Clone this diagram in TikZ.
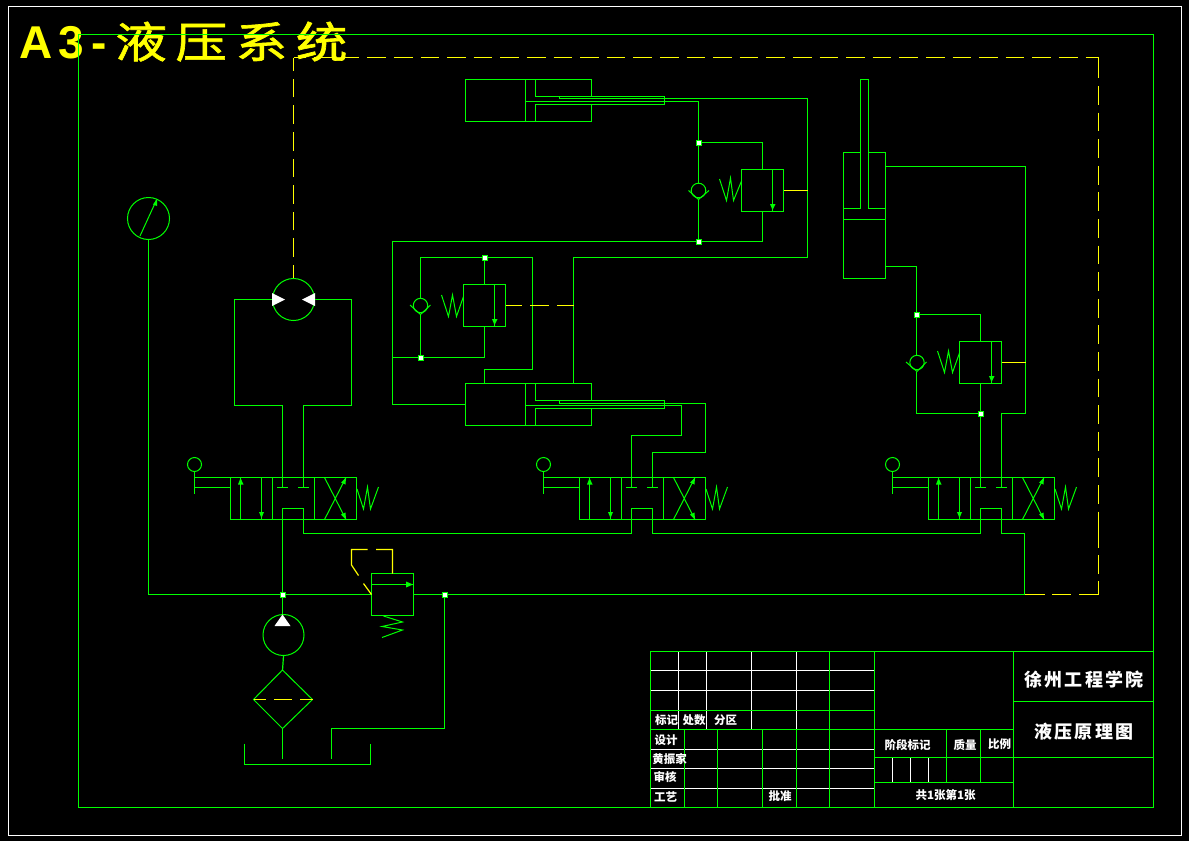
\documentclass[tikz,border=0pt]{standalone}
\usepackage{fontspec}
\setmainfont{Noto Sans CJK SC}
\newfontfamily\latfont{Liberation Sans}
\newfontfamily\cjk{Noto Sans CJK SC}
\newfontfamily\cjkwide[LetterSpace=12]{Noto Sans CJK SC}
\newfontfamily\cjktitle[LetterSpace=20,FakeStretch=1.2,FakeBold=1.5]{Noto Sans CJK SC}
\definecolor{gr}{RGB}{0,255,0}
\definecolor{ye}{RGB}{255,255,0}
\tikzset{
  pipe/.style={draw=gr,line width=1.2pt},
  thin/.style={draw=gr,line width=1pt},
  wht/.style={draw=white,line width=1.2pt},
  ctrl/.style={draw=ye,line width=1.2pt},
  ctrldash/.style={draw=ye,line width=1.2pt,dash pattern=on 18.7pt off 7.9pt},
  junction/.style={rectangle,draw=gr,fill=white,line width=1pt,minimum size=5pt,inner sep=0pt},
  lab/.style={text=white,font=\cjk\bfseries\fontsize{11.5}{12}\selectfont,inner sep=0pt},
  biglab/.style={text=white,font=\cjkwide\bfseries\fontsize{18}{20}\selectfont,inner sep=0pt},
  headfill/.style={fill=gr},
  dirvalve/.pic={
    \draw[pipe] (230.5,477.5) rectangle (356.5,519.5);
    \draw[pipe] (272.5,477.5) -- (272.5,519.5) (314.5,477.5) -- (314.5,519.5);
    \draw[thin] (194.5,464.5) circle (7);
    \draw[pipe] (194.5,471.5) -- (194.5,493.5) (194.5,477.5) -- (230.5,477.5) (194.5,487.5) -- (230.5,487.5);
    \draw[pipe] (240.5,477.5) -- (240.5,519.5) (261.5,477.5) -- (261.5,519.5);
    \fill[headfill] (240.5,478) -- (243.5,484.5) -- (238,484.5) -- cycle;
    \fill[headfill] (261.5,518) -- (264,512) -- (259,512) -- cycle;
    \draw[pipe] (277,487.5) -- (288,487.5) (298,487.5) -- (309,487.5);
    \draw[thin] (324.5,477.5) -- (346,519.5) (324.5,519.5) -- (346,477.5);
    \fill[headfill] (346,477.5) -- (345.5,484.5) -- (341,482.5) -- cycle;
    \fill[headfill] (346,519.5) -- (345.5,512.5) -- (341,514.5) -- cycle;
    \draw[thin] (357,489) -- (363.5,509) -- (367.5,487) -- (370.5,509) -- (378.5,487);
  }
}
\begin{document}
\begin{tikzpicture}[x=1pt,y=-1pt]
\useasboundingbox (0,0) rectangle (1189,841);
\fill[black] (0,0) rectangle (1189,841);
% title
\node[anchor=base west,inner sep=0pt,text=ye] (title) at (19,58)
  {{\latfont\bfseries\fontsize{46}{46}\selectfont A\kern6pt 3\kern8pt-\kern8pt}{\cjktitle\fontsize{43}{43}\selectfont 液压系统}};
% frames
\draw[wht] (8.5,6.5) rectangle (1181.5,835.5);
\draw[pipe] (78.5,34.5) rectangle (1153.5,807.5);

% ---- dashed control lines
\coordinate (cornerTL) at (293.5,57.5);
\coordinate (cornerTR) at (1098.5,57.5);
\draw[ctrldash,dash phase=6pt] (cornerTL) -- (cornerTR);
\draw[ctrl] (cornerTR) -- (1098.5,77.5);
\draw[ctrldash] (1098.5,86) -- (1098.5,531);
\draw[ctrl] (1098.5,512) -- (1098.5,547.5) (1098.5,555) -- (1098.5,573.5) (1098.5,581) -- (1098.5,594.5);
\draw[ctrl] (1024.5,594.5) -- (1045,594.5) (1052,594.5) -- (1071,594.5) (1079,594.5) -- (1098.5,594.5);
\draw[ctrl] (293.5,279) -- (293.5,265);
\draw[ctrldash] (293.5,257) -- (cornerTL);

% ---- gauge
\node[circle,draw=gr,line width=1pt,minimum size=42pt,inner sep=0pt] (gauge) at (148.5,218.5) {};
\draw[thin] (140,236) -- (156.5,200);
\fill[headfill] (157,199) -- (157,206) -- (153,204.5) -- cycle;

% ---- motor
\node[circle,draw=gr,line width=1pt,minimum size=42pt,inner sep=0pt] (motor) at (293.5,299.5) {};
\fill[white] (272,293) -- (285,299.5) -- (272,306) -- cycle;
\fill[white] (315,293) -- (302,299.5) -- (315,306) -- cycle;
\draw[pipe] (motor.west) -- (234.5,299.5) |- (282.5,405.5) -- (282.5,487.5);
\draw[pipe] (motor.east) -- (351.5,299.5) |- (303.5,405.5) -- (303.5,487.5);

% ---- directional valves
\pic at (0,0) {dirvalve};
\pic at (349,0) {dirvalve};
\pic at (698,0) {dirvalve};

% ---- supply and return
\node[circle,draw=gr,line width=1pt,minimum size=41pt,inner sep=0pt] (pump) at (283.5,635) {};
\coordinate (jpc) at (282.5,594.5);
\coordinate (jrc) at (444.5,594.5);
\draw[pipe] (gauge.south) |- (jpc);
\draw[pipe] (jpc) -- (371.5,594.5);
\draw[pipe] (413.5,594.5) -- (1024.5,594.5) -- (1024.5,533.5) -- (1001.5,533.5) -- (1001.5,508.5) -- (980.5,508.5) -- (980.5,533.5) -- (652.5,533.5) -- (652.5,508.5) -- (631.5,508.5) -- (631.5,533.5) -- (303.5,533.5) -- (303.5,508.5) -- (282.5,508.5) -- (282.5,614.5);
\fill[white] (282.5,614.5) -- (290.5,626) -- (274.5,626) -- cycle;
% relief valve
\draw[pipe] (371.5,573.5) rectangle (413.5,615.5);
\draw[pipe] (371.5,584.5) -- (413.5,584.5);
\fill[headfill] (413,584.5) -- (406,581.5) -- (406,587.5) -- cycle;
\draw[ctrl] (371.5,594.5) -- (363.5,583.5) (358.5,575.5) -- (351.5,565) -- (351.5,549.5) -- (367.5,549.5) (376,549.5) -- (392.5,549.5) -- (392.5,573.5);
\draw[thin] (383.5,616) -- (402.5,622) -- (382,626.5) -- (402.5,630) -- (382,637.5);
% filter
\draw[pipe] (pump.south) -- (282.5,670.5);
\draw[thin] (282.5,670) -- (312.5,699.5) -- (282.5,728.5) -- (253.5,699.5) -- cycle;
\draw[ctrl] (253.5,699.5) -- (266,699.5) (274,699.5) -- (292,699.5) (300,699.5) -- (312.5,699.5);
\draw[pipe] (282.5,728.5) -- (282.5,758.5);
\draw[pipe] (244.5,743.5) -- (244.5,764.5) -- (370.5,764.5) -- (370.5,743.5);
\draw[pipe] (331.5,758.5) -- (331.5,728.5) -- (444.5,728.5) -- (jrc);
\node[junction] (jp) at (jpc) {};
\node[junction] (jr) at (jrc) {};

% ---- cylinder A (top)
\draw[pipe] (591.5,96.5) -- (591.5,79.5) -- (465.5,79.5) -- (465.5,121.5) -- (591.5,121.5) -- (591.5,104.5);
\draw[pipe] (525.5,79.5) -- (525.5,121.5);
\draw[pipe] (535.5,79.5) -- (535.5,96.5) -- (664.5,96.5) -- (664.5,104.5) -- (535.5,104.5) -- (535.5,121.5);
\draw[pipe] (525.5,101.5) -- (698.5,101.5) -- (698.5,183.5);
\draw[pipe] (559.5,96.5) -- (559.5,98.5) -- (807.5,98.5) -- (807.5,257.5) -- (573.5,257.5) -- (573.5,383.5);
% check + sequence valve A
\coordinate (ja1c) at (698.5,142.5);
\coordinate (ja2c) at (698.5,241.5);
\draw[thin] (698.5,190.5) circle (7.3);
\draw[thin] (688.5,190.5) -- (698.5,199.5) -- (709,190.5);
\draw[pipe] (698.5,199.5) -- (ja2c);
\draw[pipe] (ja1c) -- (762.5,142.5) -- (762.5,169.5);
\draw[pipe] (741.5,169.5) rectangle (783.5,211.5);
\draw[pipe] (772.5,169.5) -- (772.5,211.5);
\fill[headfill] (772.5,210) -- (775.5,204) -- (770,204) -- cycle;
\draw[thin] (719.5,179) -- (726.5,200.5) -- (730.5,178) -- (733.5,200.5) -- (741.5,181);
\draw[ctrl] (783.5,190.5) -- (807.5,190.5);
\draw[pipe] (762.5,211.5) -- (762.5,241.5) -- (392.5,241.5) -- (392.5,404.5) -- (465.5,404.5);
\node[junction] (ja1) at (ja1c) {};
\node[junction] (ja2) at (ja2c) {};

% ---- valve block B
\coordinate (jb1c) at (484.5,257.5);
\coordinate (jb2c) at (420.5,357.5);
\draw[pipe] (463.5,284.5) rectangle (505.5,326.5);
\draw[pipe] (494.5,284.5) -- (494.5,326.5);
\fill[headfill] (494.5,325) -- (497.5,319) -- (492,319) -- cycle;
\draw[pipe] (484.5,284.5) -- (jb1c);
\draw[pipe] (420.5,298.5) -- (420.5,257.5) -- (532.5,257.5) -- (532.5,369.5) -- (484.5,369.5) -- (484.5,383.5);
\draw[thin] (420.5,305.5) circle (7.2);
\draw[thin] (410,305) -- (420.5,314.5) -- (430.5,305);
\draw[pipe] (420.5,314.5) -- (jb2c);
\draw[pipe] (392.5,357.5) -- (484.5,357.5) -- (484.5,326.5);
\draw[thin] (441.5,295) -- (448.5,316.5) -- (452.5,295) -- (456.5,316.5) -- (463.5,296.5);
\draw[ctrl] (505.5,305.5) -- (521.5,305.5) (530,305.5) -- (549,305.5) (557,305.5) -- (573.5,305.5);
\node[junction] (jb1) at (jb1c) {};
\node[junction] (jb2) at (jb2c) {};

% ---- cylinder B
\draw[pipe] (591.5,400.5) -- (591.5,383.5) -- (465.5,383.5) -- (465.5,425.5) -- (591.5,425.5) -- (591.5,408.5);
\draw[pipe] (525.5,383.5) -- (525.5,425.5);
\draw[pipe] (535.5,383.5) -- (535.5,400.5) -- (664.5,400.5) -- (664.5,408.5) -- (535.5,408.5) -- (535.5,425.5);
\draw[pipe] (525.5,405.5) -- (681.5,405.5) -- (681.5,435.5) -- (631.5,435.5) -- (631.5,487.5);
\draw[pipe] (559.5,400.5) -- (559.5,403.5) -- (705.5,403.5) -- (705.5,452.5) -- (652.5,452.5) -- (652.5,487.5);

% ---- vertical cylinder C
\draw[pipe] (860.5,152.5) -- (843.5,152.5) -- (843.5,278.5) -- (885.5,278.5) -- (885.5,152.5) -- (868.5,152.5);
\draw[pipe] (843.5,208.5) -- (860.5,208.5) -- (860.5,79.5) -- (868.5,79.5) -- (868.5,208.5) -- (885.5,208.5);
\draw[pipe] (843.5,219.5) -- (885.5,219.5);
\draw[pipe] (885.5,166.5) -- (1025.5,166.5) -- (1025.5,413.5) -- (1001.5,413.5) -- (1001.5,487.5);
\coordinate (jc1c) at (916.5,314.5);
\coordinate (jc2c) at (980.5,413.5);
\draw[pipe] (885.5,266.5) -- (916.5,266.5) -- (916.5,355);
\draw[thin] (917,362.5) circle (7.2);
\draw[thin] (906,362) -- (917,371.5) -- (926.5,362);
\draw[pipe] (916.5,371.5) -- (916.5,413.5) -- (jc2c);
\draw[pipe] (jc1c) -- (980.5,314.5) -- (980.5,341.5);
\draw[pipe] (959.5,341.5) rectangle (1001.5,383.5);
\draw[pipe] (991.5,341.5) -- (991.5,383.5);
\fill[headfill] (991.5,382) -- (994.5,376) -- (989,376) -- cycle;
\draw[pipe] (980.5,383.5) -- (980.5,487.5);
\draw[thin] (937.5,351) -- (944.5,372.5) -- (948.5,351) -- (952.5,372.5) -- (959.5,353);
\draw[ctrl] (1001.5,362.5) -- (1025.5,362.5);
\node[junction] (jc1) at (jc1c) {};
\node[junction] (jc2) at (jc2c) {};

% ---- title block
\draw[wht] (650.5,670.5) -- (874.5,670.5) (650.5,690.5) -- (874.5,690.5)
  (650.5,749.5) -- (874.5,749.5) (650.5,768.5) -- (874.5,768.5) (650.5,788.5) -- (874.5,788.5);
\draw[wht] (678.5,651.5) -- (678.5,729.5) (706.5,651.5) -- (706.5,729.5) (751.5,651.5) -- (751.5,729.5) (796.5,651.5) -- (796.5,729.5);
\draw[wht] (892.5,757.5) -- (892.5,782.5) (910.5,757.5) -- (910.5,782.5) (928.5,757.5) -- (928.5,782.5);
\draw[pipe] (650.5,651.5) rectangle (1153.5,807.5);
\draw[pipe] (650.5,710.5) -- (874.5,710.5) (650.5,729.5) -- (1013.5,729.5);
\draw[pipe] (684.5,729.5) -- (684.5,807.5) (717.5,729.5) -- (717.5,807.5) (762.5,729.5) -- (762.5,807.5) (796.5,729.5) -- (796.5,807.5);
\draw[pipe] (829.5,651.5) -- (829.5,807.5) (874.5,651.5) -- (874.5,807.5) (1013.5,651.5) -- (1013.5,807.5);
\draw[pipe] (1013.5,701.5) -- (1153.5,701.5) (874.5,757.5) -- (1153.5,757.5) (874.5,782.5) -- (1013.5,782.5);
\draw[pipe] (946.5,729.5) -- (946.5,782.5) (980.5,729.5) -- (980.5,782.5);
\node[lab] (t1) at (666.5,720) {标记};
\node[lab] (t2) at (694,720) {处数};
\node[lab] (t3) at (725.5,720) {分区};
\node[lab] (t4) at (666,740) {设计};
\node[lab] (t5) at (669.5,759) {黄振家};
\node[lab] (t6) at (665,777) {审核};
\node[lab] (t7) at (665.5,797) {工艺};
\node[lab] (t8) at (780,796) {批准};
\node[lab] (t9) at (907.5,745) {阶段标记};
\node[lab] (t10) at (965,745) {质量};
\node[lab] (t11) at (999.5,744) {比例};
\node[lab] (t12) at (945.5,795) {共1张第1张};
\node[biglab] (t13) at (1084,680) {徐州工程学院};
\node[biglab] (t14) at (1084,732) {液压原理图};
\end{tikzpicture}
\end{document}
